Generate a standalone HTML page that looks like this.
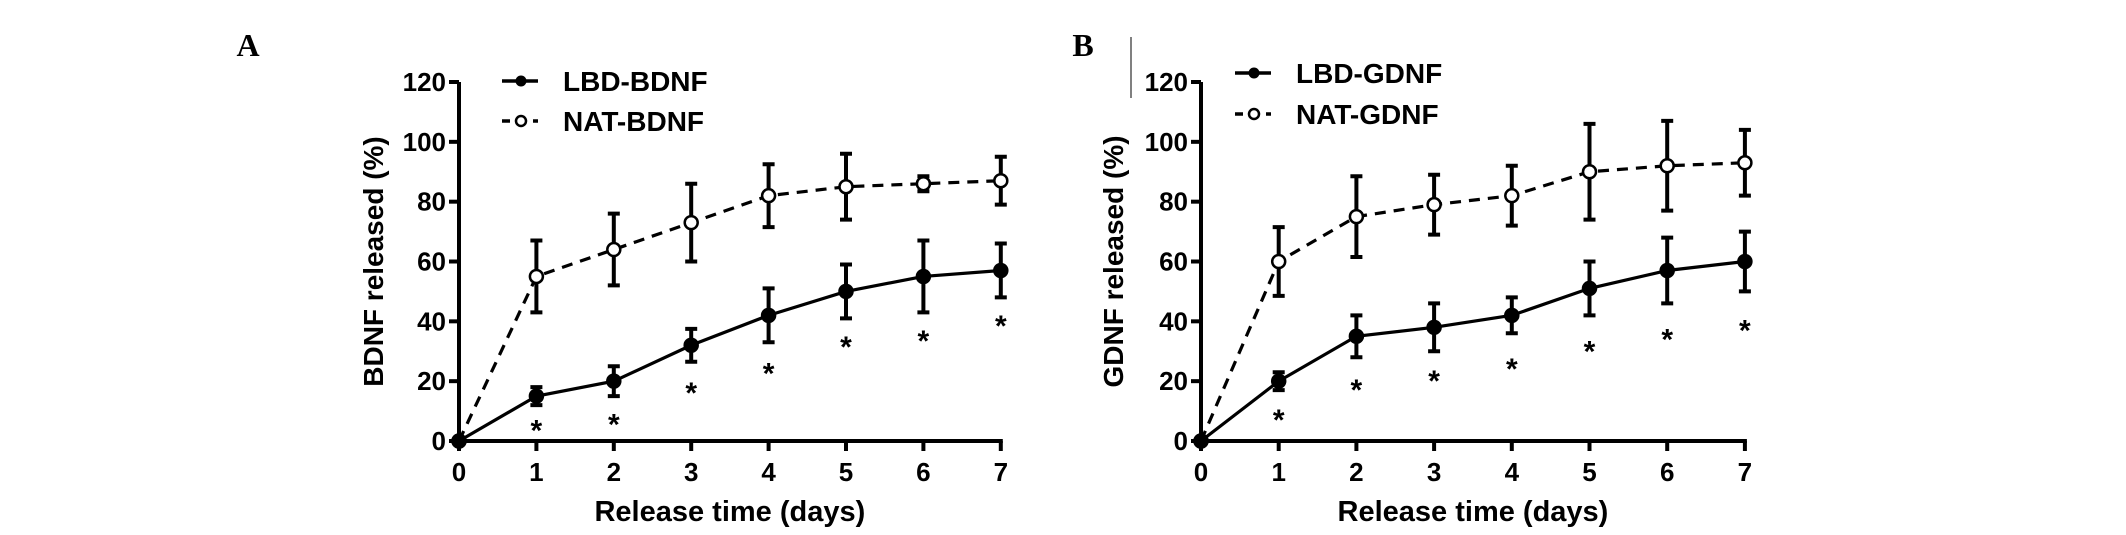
<!DOCTYPE html>
<html><head><meta charset="utf-8"><style>
html,body{margin:0;padding:0;background:#fff;}
svg{display:block;font-family:"Liberation Sans",Arial,sans-serif;}
</style></head><body>
<svg id="chart" width="2126" height="535" viewBox="0 0 2126 535" xmlns="http://www.w3.org/2000/svg">
<rect width="2126" height="535" fill="#fff"/>
<text x="248" y="56" font-family="Liberation Serif,serif" font-weight="bold" font-size="32" text-anchor="middle">A</text>
<text x="1083" y="56" font-family="Liberation Serif,serif" font-weight="bold" font-size="32" text-anchor="middle">B</text>
<line x1="1131" y1="37" x2="1131" y2="98" stroke="#555" stroke-width="1.5"/>
</svg>
<script>
const days = [0,1,2,3,4,5,6,7];
const yTicks = [0,20,40,60,80,100,120];
const lbdBdnf = [0,15,20,32,42,50,55,57];
const lbdBdnfErr = [0,3,5,5.5,9,9,12,9];
const natBdnf = [0,55,64,73,82,85,86,87];
const natBdnfErr = [0,12,12,13,10.5,11,2.5,8];
const starsBdnf = [null,5.5,7.5,18,24.5,33.5,35.5,40.5];
const lbdGdnf = [0,20,35,38,42,51,57,60];
const lbdGdnfErr = [0,3,7,8,6,9,11,10];
const natGdnf = [0,60,75,79,82,90,92,93];
const natGdnfErr = [0,11.5,13.5,10,10,16,15,11];
const starsGdnf = [null,9,19,22,26,32,36,39];

const NS = "http://www.w3.org/2000/svg";
const svg = document.getElementById('chart');
function mk(tag, attrs, parent){
  const e = document.createElementNS(NS, tag);
  for (const k in attrs) e.setAttribute(k, attrs[k]);
  (parent||svg).appendChild(e);
  return e;
}
function panel(cfg){
  const x0=cfg.x0, dx=cfg.dx, yb=441, yt=82;
  const X = d => x0 + d*dx;
  const Y = v => yb - (v/120)*(yb-yt);
  const g = mk('g',{});
  
  
  const ya = mk('line',{x1:x0,y1:Y(120),x2:x0,y2:yb,stroke:'#000','stroke-width':4},g);
  
  
  const xa = mk('line',{x1:x0-2,y1:yb,x2:X(7)+2,y2:yb,stroke:'#000','stroke-width':4},g);
  
  
  yTicks.forEach(t=>{
    mk('line',{x1:x0-10,y1:Y(t),x2:x0,y2:Y(t),stroke:'#000','stroke-width':4},g);
    const tl = mk('text',{x:x0-13,y:Y(t)+9,'font-size':26,'font-weight':'bold','text-anchor':'end'},g);
    tl.textContent = t;
    
    
  });
  days.forEach(d=>{
    mk('line',{x1:X(d),y1:yb,x2:X(d),y2:yb+10,stroke:'#000','stroke-width':4},g);
    const tl = mk('text',{x:X(d),y:481,'font-size':26,'font-weight':'bold','text-anchor':'middle'},g);
    tl.textContent = d;
    
    
  });
  const xt = mk('text',{x:(x0+X(7))/2,y:521,'font-size':29,'font-weight':'bold','text-anchor':'middle'},g);
  xt.textContent = 'Release time (days)';
  
  
  const yt2 = mk('text',{x:0,y:0,'font-size':28,'font-weight':'bold','text-anchor':'middle',transform:`translate(${cfg.ytx},${(yb+yt)/2}) rotate(-90)`},g);
  yt2.textContent = cfg.ytitle;
  
  
  function series(vals, errs, dashed, open, name){
    const pts = vals.map((v,i)=>X(days[i])+','+Y(v)).join(' ');
    const pl = mk('polyline',{points:pts,fill:'none',stroke:'#000','stroke-width':3.2,'stroke-dasharray':dashed?'11,8':'none'},g);
    
    
    vals.forEach((v,i)=>{
      if (errs[i]>0){
        const eb = mk('path',{d:`M${X(days[i])},${Y(v+errs[i])}V${Y(v-errs[i])}M${X(days[i])-6},${Y(v+errs[i])}h12M${X(days[i])-6},${Y(v-errs[i])}h12`,stroke:'#000','stroke-width':4,fill:'none'},g);
        
        
      }
      const c = mk('circle',{cx:X(days[i]),cy:Y(v),r:6.5,fill:open&&i>0?'#fff':'#000',stroke:'#000','stroke-width':2.5},g);
      
      
    });
  }
  series(cfg.nat, cfg.natErr, true, true, cfg.id+'-nat');
  series(cfg.lbd, cfg.lbdErr, false, false, cfg.id+'-lbd');
  cfg.stars.forEach((s,i)=>{
    if (s===null) return;
    const st = mk('text',{x:X(days[i]),y:Y(s)+16,'font-size':30,'font-weight':'bold','text-anchor':'middle'},g);
    st.textContent = '*';
    
    
  });
  const lx = cfg.legX, r1 = cfg.legY1, r2 = cfg.legY2;
  const l1 = mk('g',{},g);
  
  
  mk('line',{x1:lx,y1:r1,x2:lx+36,y2:r1,stroke:'#000','stroke-width':3.5},l1);
  mk('circle',{cx:lx+19,cy:r1,r:5.5,fill:'#000'},l1);
  const t1 = mk('text',{x:lx+61,y:r1+10,'font-size':28,'font-weight':'bold'},l1);
  t1.textContent = cfg.lbdName;
  const l2 = mk('g',{},g);
  
  
  mk('line',{x1:lx,y1:r2,x2:lx+8,y2:r2,stroke:'#000','stroke-width':3.5},l2);
  mk('circle',{cx:lx+19,cy:r2,r:5,fill:'#fff',stroke:'#000','stroke-width':2.5},l2);
  mk('line',{x1:lx+31,y1:r2,x2:lx+36,y2:r2,stroke:'#000','stroke-width':3.5},l2);
  const t2 = mk('text',{x:lx+61,y:r2+10,'font-size':28,'font-weight':'bold'},l2);
  t2.textContent = cfg.natName;
}
panel({id:'bdnf',x0:459,dx:77.4,ytx:383,ytitle:'BDNF released (%)',lbd:lbdBdnf,lbdErr:lbdBdnfErr,nat:natBdnf,natErr:natBdnfErr,stars:starsBdnf,legX:502,legY1:81,legY2:121,lbdName:'LBD-BDNF',natName:'NAT-BDNF'});
panel({id:'gdnf',x0:1201,dx:77.7,ytx:1123,ytitle:'GDNF released (%)',lbd:lbdGdnf,lbdErr:lbdGdnfErr,nat:natGdnf,natErr:natGdnfErr,stars:starsGdnf,legX:1235,legY1:73,legY2:114,lbdName:'LBD-GDNF',natName:'NAT-GDNF'});
</script>
</body></html>
